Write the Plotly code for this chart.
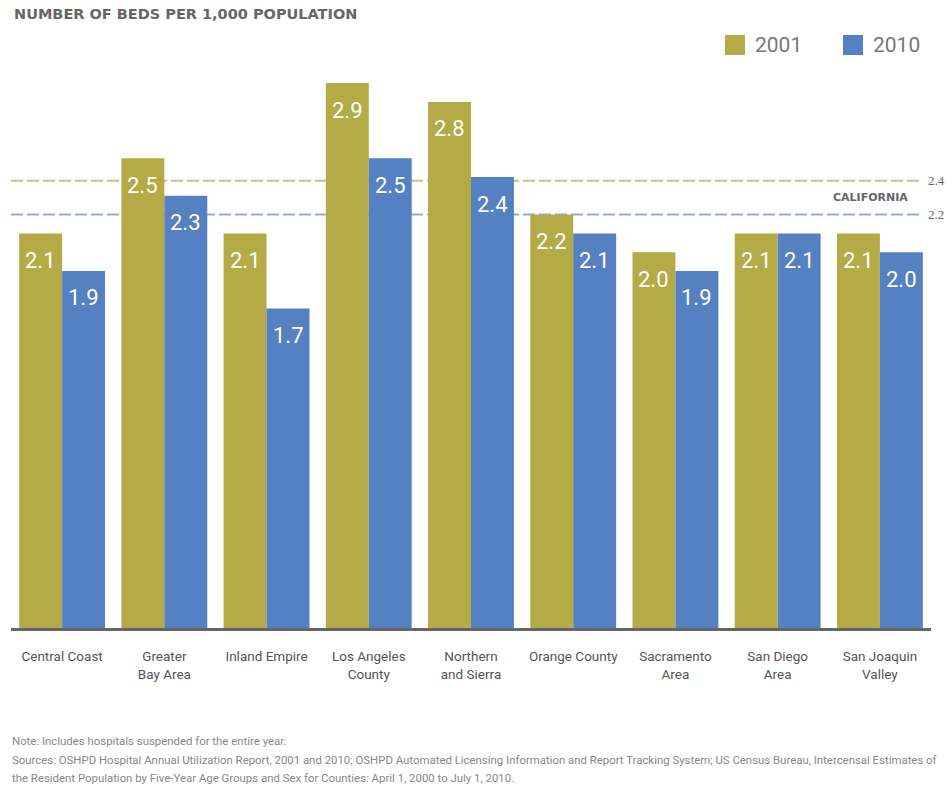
import plotly.graph_objects as go

regions = ["Central Coast", "Greater<br>Bay Area", "Inland Empire", "Los Angeles<br>County",
           "Northern<br>and Sierra", "Orange County", "Sacramento<br>Area", "San Diego<br>Area",
           "San Joaquin<br>Valley"]
beds_2001 = [2.1, 2.5, 2.1, 2.9, 2.8, 2.2, 2.0, 2.1, 2.1]
beds_2010 = [1.9, 2.3, 1.7, 2.5, 2.4, 2.1, 1.9, 2.1, 2.0]
series_names = ["2001", "2010"]
california = [2.38, 2.2]
california_labels = ["2.4", "2.2"]

OLIVE = "#B4AA46"
BLUE = "#5580C1"
NARROW = "Roboto, Liberation Sans Narrow, DejaVu Sans Condensed, sans-serif"

fig = go.Figure()
series = [(series_names[0], beds_2001, OLIVE, -21.5), (series_names[1], beds_2010, BLUE, 21.5)]
for name, vals, col, dx in series:
    fig.add_trace(go.Bar(
        x=regions, y=vals, name=name, marker=dict(color=col, line=dict(width=0)),
        showlegend=False, hoverinfo="x+y+name",
    ))
    for r, v in zip(regions, vals):
        fig.add_annotation(x=r, y=v, text=f"{v:.1f}", showarrow=False, xshift=dx, yshift=-27,
                           xanchor="center", yanchor="middle",
                           font=dict(family=NARROW, size=22, color="white"))

# California reference lines
line_cols = ["#C9C27E", "#8EAADA"]
for val, col, lab in zip(california, line_cols, california_labels):
    fig.add_shape(type="line", xref="paper", yref="y", x0=0, x1=0.99, y0=val, y1=val,
                  line=dict(color=col, width=2, dash="12px,4px"), layer="below")
    fig.add_annotation(xref="paper", yref="y", x=0.9946, y=val, text=lab, showarrow=False,
                       xanchor="left", yanchor="middle",
                       font=dict(family="Liberation Serif, serif", size=13, color="#666"))
fig.add_annotation(xref="paper", yref="y", x=0.934, y=(california[0] + california[1]) / 2,
                   text="<b>CALIFORNIA</b>", showarrow=False, xanchor="center", yanchor="middle",
                   font=dict(family="DejaVu Sans, sans-serif", size=11, color="#666"))

# custom legend
for i, (name, col) in enumerate(zip(series_names, [OLIVE, BLUE])):
    x0 = (725 + i * 118 - 11) / 920
    x1 = (745 + i * 118 - 11) / 920
    fig.add_shape(type="rect", xref="paper", yref="paper", x0=x0, x1=x1,
                  y0=(628 - 55) / 588, y1=(628 - 35) / 588, fillcolor=col, line=dict(width=0))
    fig.add_annotation(xref="paper", yref="paper", x=(753 + i * 118 - 11) / 920, y=(628 - 45) / 588,
                       text=name, showarrow=False, xanchor="left", yanchor="middle",
                       font=dict(family=NARROW, size=21, color="#777"))

# title
fig.add_annotation(xref="paper", yref="paper", x=(12 - 11) / 920, y=(628 - 14) / 588,
                   text="<b>NUMBER OF BEDS PER 1,000 POPULATION</b>", showarrow=False,
                   xanchor="left", yanchor="middle",
                   font=dict(family="DejaVu Sans, sans-serif", size=14.5, color="#666"))

# footnotes
notes = [
    ("Note: Includes hospitals suspended for the entire year.", 741),
    ("Sources: OSHPD Hospital Annual Utilization Report, 2001 and 2010; OSHPD Automated Licensing Information and Report Tracking System; US Census Bureau, Intercensal Estimates of", 760),
    ("the Resident Population by Five-Year Age Groups and Sex for Counties: April 1, 2000 to July 1, 2010.", 778),
]
for txt, py in notes:
    fig.add_annotation(xref="paper", yref="paper", x=(10 - 11) / 920, y=(628 - py) / 588,
                       text=txt, showarrow=False, xanchor="left", yanchor="middle",
                       font=dict(family=NARROW, size=11.4, color="#888"))

fig.update_layout(
    width=952, height=790,
    margin=dict(l=11, r=21, t=40, b=162),
    paper_bgcolor="white", plot_bgcolor="white",
    barmode="group", bargap=0.16, bargroupgap=0,
    showlegend=False,
    xaxis=dict(showline=True, linecolor="#666", linewidth=2.5, ticks="", showgrid=False,
               tickfont=dict(family=NARROW, size=13.5, color="#555"), ticklabelstandoff=14),
    yaxis=dict(range=[0, 588 / 187.9], showticklabels=False, showgrid=False, zeroline=False,
               showline=False),
)

fig.write_html("out.html", config={"displayModeBar": False},
               post_script="document.body.style.margin='0';")
